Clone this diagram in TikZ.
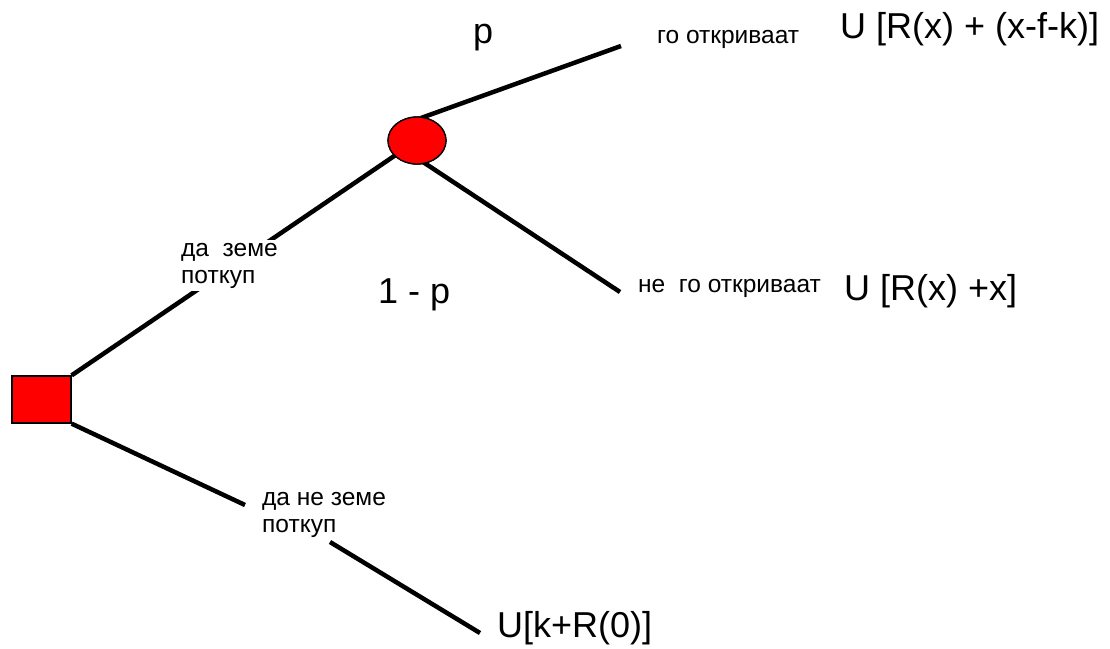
\documentclass[tikz,border=0pt]{standalone}
\usepackage{fontspec}
\setmainfont{Liberation Sans}
\usetikzlibrary{shapes.geometric}
\tikzset{
  branch/.style={line width=4.5pt, line cap=butt},
  decision/.style={rectangle, draw=black, line width=1.3pt, fill=red, minimum width=59pt, minimum height=47pt, inner sep=0pt},
  chance/.style={ellipse, draw=black, line width=1.3pt, fill=red, minimum width=58pt, minimum height=47pt, inner sep=0pt},
  small/.style={font=\fontsize{24.5}{26.5}\selectfont, inner sep=0pt, anchor=base west, align=left},
  big/.style={font=\fontsize{36}{43}\selectfont, inner sep=0pt, anchor=base west},
}
\begin{document}
\begin{tikzpicture}[x=1pt,y=-1pt]
\useasboundingbox (0,0) rectangle (1110,648);
% coordinates
\coordinate (sqc) at (41.5,399.5);
\coordinate (chc) at (417,140.5);
\coordinate (a1) at (421,118);
\coordinate (e1) at (621,46);
\coordinate (a2) at (423,162);
\coordinate (e2) at (620,292);
\coordinate (b1) at (245,505);
\coordinate (b2) at (330,542);
\coordinate (e3) at (480,633);
% branches
\node[decision] (sq) at (sqc) {};
\node[chance] (ch) at (chc) {};
\draw[branch] (sq.north east) -- (ch.center);
\draw[branch] (a1) -- (e1);
\draw[branch] (a2) -- (e2);
\draw[branch] (sq.south east) -- (b1);
\draw[branch] (b2) -- (e3);
% shapes on top
\node[decision] at (sqc) {};
\node[chance] at (chc) {};
% labels
\node[small, fill=white, inner sep=3pt] (l1) at (178,283) {да\ \ земе\\поткуп};
\node[small] (l2) at (262,532) {да не земе\\поткуп};
\node[big] (p) at (473,43) {p};
\node[big] (q) at (378,303) {1 - p};
\node[small] (t1) at (657,43) {го откриваат};
\node[big] (u1) at (840,38) {U [R(x) + (x-f-k)]};
\node[small] (t2) at (638,292) {не\ \ го откриваат};
\node[big] (u2) at (844,300) {U [R(x) +x]};
\node[big] (u3) at (497,637) {U[k+R(0)]};
\end{tikzpicture}
\end{document}
